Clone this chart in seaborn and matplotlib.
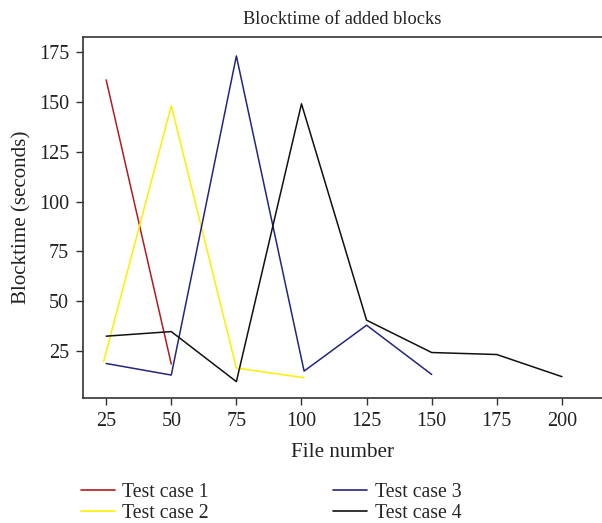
import matplotlib
matplotlib.use("Agg")
import matplotlib.pyplot as plt
import seaborn as sns
import pandas as pd

# --- data ---
files_1 = [25, 50]
time_1 = [161, 18.5]

files_2 = [24, 50, 75, 101]
time_2 = [19.7, 148, 16.5, 11.7]

files_3 = [25, 50, 75, 101, 125, 150]
time_3 = [18.8, 13, 173, 15, 38, 13.3]

files_4 = [25, 50, 75, 100, 125, 150, 175, 200]
time_4 = [32.5, 34.8, 9.7, 149, 40.5, 24.3, 23.3, 12.2]

case_names = ["Test case 1", "Test case 2", "Test case 3", "Test case 4"]
case_colors = ["#b01c24", "#ffee00", "#25257f", "#111111"]

frames = []
for name, xs, ys in zip(case_names, [files_1, files_2, files_3, files_4],
                        [time_1, time_2, time_3, time_4]):
    frames.append(pd.DataFrame({"file": xs, "blocktime": ys, "case": name}))
df = pd.concat(frames, ignore_index=True)

sns.set_theme(style="ticks")
plt.rcParams["font.family"] = ["Liberation Serif", "DejaVu Serif"]

fig = plt.figure(figsize=(6.02, 5.23), dpi=100)
ax = fig.add_axes([83 / 602, 1 - 398 / 523, 1 - 83 / 602, (398 - 37) / 523])

sns.lineplot(data=df, x="file", y="blocktime", hue="case", palette=case_colors,
             sort=False, estimator=None, linewidth=1.1, ax=ax, legend=False)

ax.set_xlim(16.1, 215.4)
ax.set_ylim(1.5, 182.5)
ax.set_xticks([25, 50, 75, 100, 125, 150, 175, 200])
ax.set_yticks([25, 50, 75, 100, 125, 150, 175])
ax.tick_params(labelsize=14.5, length=5, width=1, pad=5,
               color="#333333", labelcolor="#222222")
for side in ["left", "bottom", "top"]:
    ax.spines[side].set_color("#333333")
    ax.spines[side].set_linewidth(1.2)
ax.spines["right"].set_visible(False)

ax.set_title("Blocktime of added blocks", fontsize=13.2, color="#222222", pad=9)
ax.set_xlabel("File number", fontsize=15.2, color="#222222", labelpad=9)
ax.set_ylabel("Blocktime (seconds)", fontsize=15.1, color="#222222", labelpad=5)

handles = [plt.Line2D([], [], color=c, linewidth=1.2) for c in case_colors]
fig.legend(handles, case_names, ncol=2,
           loc="center left", bbox_to_anchor=(81 / 602, 1 - 503 / 523),
           frameon=False, fontsize=14.2, handlelength=1.7, handletextpad=0.4,
           columnspacing=6.3, labelspacing=0.1, borderaxespad=0, borderpad=0)

fig.savefig("out.png", dpi=100)
